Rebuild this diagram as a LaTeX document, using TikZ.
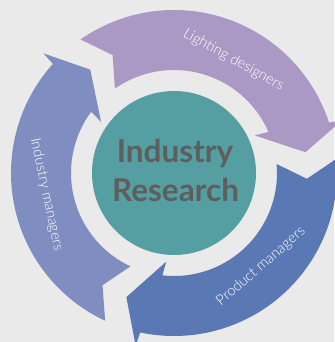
\documentclass[tikz,border=0pt]{standalone}
\usepackage{fontspec}
\setmainfont{Lato}
\newfontfamily\lightlato{Lato Light}
\definecolor{bgc}{HTML}{EAEAEA}
\definecolor{lightc}{HTML}{AC98C4}
\definecolor{productc}{HTML}{5A78B4}
\definecolor{industryc}{HTML}{808DC0}
\definecolor{hubc}{HTML}{559FA3}
\definecolor{hubtext}{HTML}{5E5E5E}
\newcommand\ringarrow[2]{%
  \fill[#2] (#1:163) arc[start angle=#1, end angle={#1-107}, radius=163]
    -- ({#1-107.5}:177) -- ({#1-116}:133) -- ({#1-100}:89) -- ({#1-101.5}:103)
    arc[start angle={#1-101.5}, end angle=#1, radius=103]
    -- ({#1-7.5}:133) -- cycle;}
\tikzset{
  lbl/.style={text=white, inner sep=0pt, font=\lightlato\fontsize{14.5}{17}\selectfont},
  hubword/.style={text=hubtext, inner sep=0pt, anchor=base, font=\fontsize{31.5}{38}\selectfont\bfseries}
}
\begin{document}
\begin{tikzpicture}[x=1pt,y=1pt]
\fill[bgc] (0,0) rectangle (334,342);
\useasboundingbox (0,0) rectangle (334,342);
\coordinate (C) at (174,169);
\begin{scope}[shift={(C)}]
  \ringarrow{125}{lightc}
  \ringarrow{5}{productc}
  \ringarrow{-115}{industryc}
\end{scope}
\node[circle, fill=hubc, minimum size=164pt, inner sep=0pt] (hub) at (C) {};
\node[hubword] (w1) at (175,179) {Industry};
\node[hubword] (w2) at (175.5,140) {Research};
\node[lbl, rotate=-29] (l1) at (233.5,282) {Lighting designers};
\node[lbl, rotate=41] (l2) at (261,75.5) {Product managers};
\node[lbl, rotate=-78] (l3) at (46.5,147.5) {Industry managers};
\end{tikzpicture}
\end{document}
